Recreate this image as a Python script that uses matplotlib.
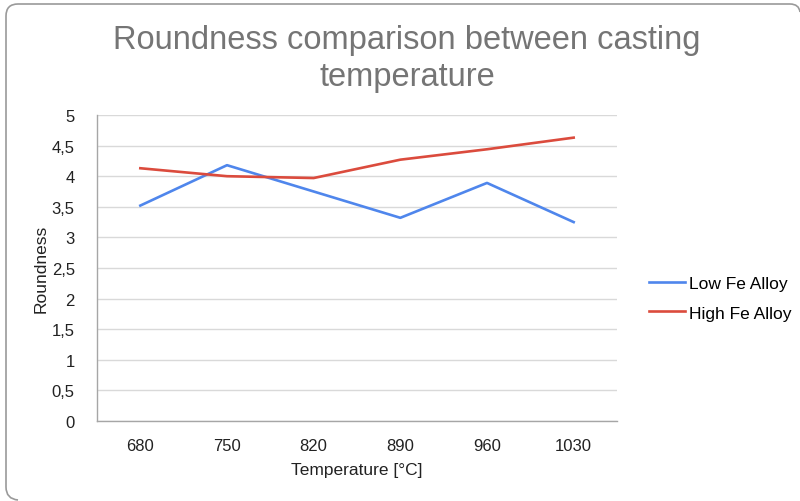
import matplotlib.pyplot as plt
from matplotlib.path import Path
from matplotlib.patches import PathPatch

plt.rcParams['font.family'] = ['Liberation Sans', 'DejaVu Sans']

temperatures = ['680', '750', '820', '890', '960', '1030']
low_fe = [3.52, 4.18, 3.75, 3.32, 3.89, 3.25]
high_fe = [4.13, 4.00, 3.97, 4.27, 4.44, 4.63]
y_ticks = [0, 0.5, 1, 1.5, 2, 2.5, 3, 3.5, 4, 4.5, 5]
y_tick_labels = ['0', '0,5', '1', '1,5', '2', '2,5', '3', '3,5', '4', '4,5', '5']

W, H = 800, 502
fig = plt.figure(figsize=(W / 100, H / 100), dpi=100)
ax = fig.add_axes([97 / W, 1 - 422 / H, 520 / W, 306 / H])

x = range(len(temperatures))
ax.plot(x, low_fe, color='#4f86ec', lw=1.9, label='Low Fe Alloy', solid_joinstyle='round')
ax.plot(x, high_fe, color='#db4b3d', lw=1.9, label='High Fe Alloy', solid_joinstyle='round')

ax.set_xlim(-0.5, len(temperatures) - 0.5)
ax.set_ylim(0, 5)
ax.set_xticks(list(x))
ax.set_xticklabels(temperatures)
ax.set_yticks(y_ticks)
ax.set_yticklabels(y_tick_labels)
ax.tick_params(length=0, labelsize=12, colors='#222222', pad=12)
ax.tick_params(axis='y', pad=16)
ax.grid(axis='y', color='#d9d9d9', lw=1)
ax.set_axisbelow(True)
for side in ['top', 'right']:
    ax.spines[side].set_visible(False)
for side in ['left', 'bottom']:
    ax.spines[side].set_color('#a6a6a6')
    ax.spines[side].set_linewidth(1)

ax.set_xlabel('Temperature [°C]', fontsize=12.5, color='#222222', labelpad=7)
ax.set_ylabel('Roundness', fontsize=12.5, color='#222222', labelpad=2)

fig.text(0.509, 1 - 59 / H, 'Roundness comparison between casting\ntemperature',
         ha='center', va='center', fontsize=23.5, color='#757575', linespacing=1.25)

ax.legend(loc='center left', bbox_to_anchor=(642 / W, 1 - 299 / H),
          bbox_transform=fig.transFigure, frameon=False, fontsize=12.5,
          handlelength=2.1, handletextpad=0.2, labelspacing=0.85,
          borderaxespad=0)

# rounded frame around the card (left and top edges)
verts = [(18 / W, 1 - 501 / H), (6 / W, 1 - 500 / H), (6 / W, 1 - 488 / H),
         (6 / W, 1 - 17 / H), (6 / W, 1 - 5 / H), (18 / W, 1 - 5 / H),
         (790 / W, 1 - 5 / H), (799 / W, 1 - 5 / H), (800 / W, 1 - 13 / H)]
codes = [Path.MOVETO, Path.CURVE3, Path.CURVE3, Path.LINETO, Path.CURVE3,
         Path.CURVE3, Path.LINETO, Path.CURVE3, Path.CURVE3]
fig.add_artist(PathPatch(Path(verts, codes), fill=False, edgecolor='#9a9a9a',
                         lw=1.2, transform=fig.transFigure))

fig.savefig('out.png', dpi=100)
